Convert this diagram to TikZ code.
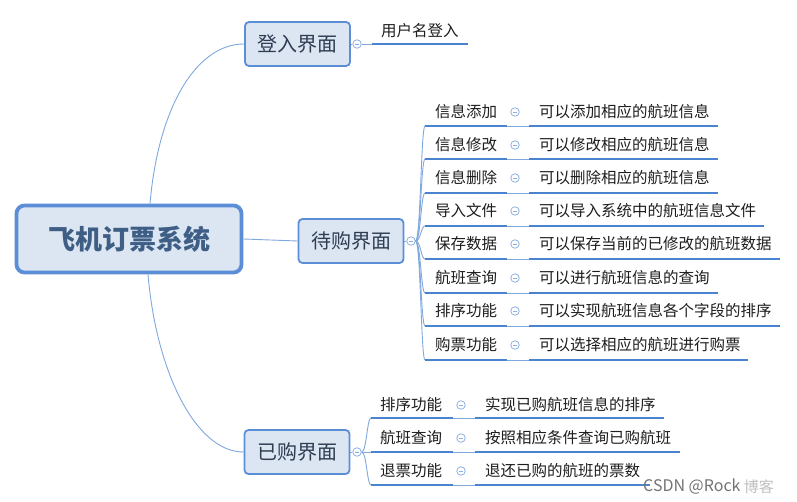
\documentclass[tikz,border=0pt]{standalone}
\usepackage{fontspec}
\setmainfont{Noto Sans CJK SC}
\definecolor{linec}{HTML}{7FA8DD}
\definecolor{ulc}{HTML}{4A84D0}
\definecolor{boxfill}{HTML}{DCE6F2}
\definecolor{boxdraw}{HTML}{5B8ED6}
\definecolor{togc}{HTML}{8EB0E0}
\definecolor{txt}{HTML}{1E1E1E}
\definecolor{subtxt}{HTML}{2E3D52}
\definecolor{roottxt}{HTML}{3F5E86}
\begin{document}
\begin{tikzpicture}[x=1pt,y=-1pt,
  lab/.style={anchor=west,inner sep=0pt,font=\fontsize{15.5}{16}\selectfont,text=txt},
  subbox/.style={draw=boxdraw,line width=1.8pt,fill=boxfill,rounded corners=4pt,inner sep=0pt,minimum width=105pt,minimum height=44pt,font=\fontsize{20}{22}\selectfont,text=subtxt},
  conn/.style={draw=linec,line width=0.9pt},
  ul/.style={draw=ulc,line width=2.6pt},
  tog/.style={circle,draw=togc,fill=white,line width=0.8pt,minimum size=8.5pt,inner sep=0pt,
    path picture={\draw[togc,line width=0.8pt] ([xshift=-2pt]path picture bounding box.center) -- ([xshift=2pt]path picture bounding box.center);}}
]
\useasboundingbox (0,0) rectangle (797,502);
\fill[white] (0,0) rectangle (797,502);

% root
\node[draw=boxdraw,line width=3.8pt,fill=boxfill,rounded corners=8pt,minimum width=225pt,minimum height=67pt,inner sep=0pt,
      font=\fontsize{27}{30}\selectfont\bfseries,text=roottxt] (root) at (129,239) {飞机订票系统};

% level 2
\node[subbox] (login) at (297.5,44) {登入界面};
\node[subbox] (buy) at (351,241) {待购界面};
\node[subbox] (bought) at (297,452) {已购界面};

\draw[conn] ([xshift=21pt]root.north) .. controls (158,110) and (195,44) .. (login.west);
\draw[conn] (root.east) -- (buy.west);
\draw[conn] ([xshift=19pt]root.south) .. controls (156,370) and (195,452) .. (bought.west);

% login branch
\node[tog] (tlogin) at (357,44) {};
\draw[conn] (login.east) -- (tlogin.west);
\coordinate (la) at (372,44);
\coordinate (lb) at (468,44);
\draw[conn] (tlogin.east) -- (la);
\draw[ul] (la) -- (lb);
\node[lab] (user) at (381,31) {用户名登入};

% buy branch
\node[tog] (tbuy) at (411,241) {};
\draw[conn] (buy.east) -- (tbuy.west);
\foreach \i/\ty/\uy/\e/\a/\b in {
  1/112/126/718/信息添加/可以添加相应的航班信息,
  2/145/159/718/信息修改/可以修改相应的航班信息,
  3/178/193/718/信息删除/可以删除相应的航班信息,
  4/211/226/764/导入文件/可以导入系统中的航班信息文件,
  5/244/259/780/保存数据/可以保存当前的已修改的航班数据,
  6/278/293/718/航班查询/可以进行航班信息的查询,
  7/311/326/780/排序功能/可以实现航班信息各个字段的排序,
  8/345/360/748/购票功能/可以选择相应的航班进行购票}{
  \coordinate (ba\i) at (425,\uy);
  \coordinate (bb\i) at (507,\uy);
  \coordinate (bc\i) at (529,\uy);
  \coordinate (bd\i) at (\e,\uy);
  \draw[conn] (tbuy.east) .. controls +(5,0) and +(-4,0) .. (ba\i);
  \draw[ul] (ba\i) -- (bb\i);
  \draw[conn] (bb\i) -- (bc\i);
  \draw[ul] (bc\i) -- (bd\i);
  \node[lab] (bl\i) at (435,\ty) {\a};
  \node[tog] (bt\i) at (515,\ty) {};
  \node[lab] (br\i) at (539,\ty) {\b};
}

% bought branch
\node[tog] (tbought) at (357,452) {};
\draw[conn] (bought.east) -- (tbought.west);
\foreach \i/\ty/\uy/\e/\a/\b in {
  1/405/418/664/排序功能/实现已购航班信息的排序,
  2/438/452/680/航班查询/按照相应条件查询已购航班,
  3/471/485/650/退票功能/退还已购的航班的票数}{
  \coordinate (ca\i) at (371,\uy);
  \coordinate (cb\i) at (453,\uy);
  \coordinate (cc\i) at (475,\uy);
  \coordinate (cd\i) at (\e,\uy);
  \draw[conn] (tbought.east) .. controls +(5,0) and +(-4,0) .. (ca\i);
  \draw[ul] (ca\i) -- (cb\i);
  \draw[conn] (cb\i) -- (cc\i);
  \draw[ul] (cc\i) -- (cd\i);
  \node[lab] (cl\i) at (380,\ty) {\a};
  \node[tog] (ct\i) at (461,\ty) {};
  \node[lab] (cr\i) at (485,\ty) {\b};
}

% watermark
\node[anchor=west,inner sep=0pt,text=black!55,font=\fontsize{16}{16}\selectfont] (wm) at (643,487) {CSDN @Rock};
\node[anchor=west,inner sep=0pt,text=black!25,font=\fontsize{15}{15}\selectfont] (wm2) at ([xshift=3pt]wm.east) {博客};
\end{tikzpicture}
\end{document}
